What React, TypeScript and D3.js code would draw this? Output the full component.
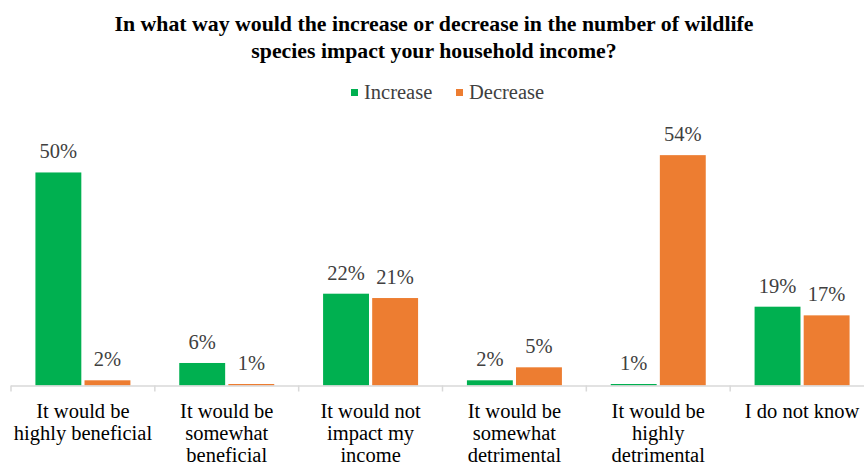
import React from "react";
import * as d3 from "d3";

const categories: string[][] = [
  ["It would be", "highly beneficial"],
  ["It would be", "somewhat", "beneficial"],
  ["It would not", "impact my", "income"],
  ["It would be", "somewhat", "detrimental"],
  ["It would be", "highly", "detrimental"],
  ["I do not know"],
];
const increaseValues = [50, 6, 22, 2, 1, 19];
const decreaseValues = [2, 1, 21, 5, 54, 17];
const seriesNames = ["Increase", "Decrease"];
const seriesColors = ["#00B050", "#ED7D31"];
const titleLines = [
  "In what way would the increase or decrease in the number of wildlife",
  "species impact your household income?",
];

const W = 864;
const H = 470;
const FONT = "Liberation Serif";

export default function App() {
  const left = 11;
  const right = 874;
  const baseline = 385.5;
  const x0 = d3.scaleBand<number>().domain(d3.range(categories.length)).range([left, right]).paddingInner(0).paddingOuter(0);
  const groupW = 95;
  const x1 = d3.scaleBand<number>().domain([0, 1]).range([0, groupW]).paddingInner(0.065);
  const y = d3.scaleLinear().domain([0.8, 60]).range([baseline, baseline - 59.2 * 4.33]);
  const series = [increaseValues, decreaseValues];
  const legendX = [351, 456];

  return (
    <svg width={W} height={H} style={{ position: "absolute", left: 0, top: 0, background: "#fff", fontFamily: FONT }}>
      <g style={{ fontFamily: FONT }}>
        {titleLines.map((t, i) => (
          <text key={i} x={434} y={31 + i * 27} textAnchor="middle" fontWeight="bold" fontSize={21.8} fill="#000">
            {t}
          </text>
        ))}
        {/* legend */}
        {seriesNames.map((n, i) => {
          const lx = legendX[i];
          return (
            <g key={n}>
              <rect x={lx} y={89} width={7} height={7} fill={seriesColors[i]} />
              <text x={lx + 13} y={99} fontSize={20.5} fill="#404040">{n}</text>
            </g>
          );
        })}
        {/* bars */}
        {categories.map((_, ci) => {
          const gx = x0(ci)! + (x0.bandwidth() - groupW) / 2;
          return (
            <g key={ci}>
              {series.map((vals, si) => {
                const v = vals[ci];
                const bx = gx + x1(si)!;
                const by = Math.min(y(v), baseline - 1.5);
                return (
                  <g key={si}>
                    <rect x={bx} y={by} width={x1.bandwidth()} height={baseline - by} fill={seriesColors[si]} />
                    <text x={bx + x1.bandwidth() / 2} y={by - 14} textAnchor="middle" fontSize={20.5} fill="#404040">
                      {v + "%"}
                    </text>
                  </g>
                );
              })}
            </g>
          );
        })}
        {/* axis */}
        <line x1={left} x2={right} y1={baseline + 0.5} y2={baseline + 0.5} stroke="#d9d9d9" strokeWidth={1.5} />
        {d3.range(categories.length + 1).map((i) => {
          const tx = i < categories.length ? x0(i)! : right;
          return <line key={i} x1={tx} x2={tx} y1={baseline} y2={baseline + 6} stroke="#d9d9d9" strokeWidth={1.5} />;
        })}
        {categories.map((lines, ci) => (
          <text key={ci} textAnchor="middle" fontSize={20.5} fill="#000">
            {lines.map((l, li) => (
              <tspan key={li} x={x0(ci)! + x0.bandwidth() / 2} y={418 + li * 22}>
                {l}
              </tspan>
            ))}
          </text>
        ))}
      </g>
    </svg>
  );
}
